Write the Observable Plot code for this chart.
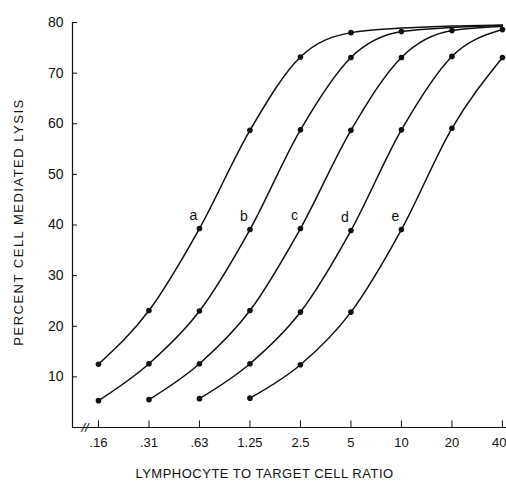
<!DOCTYPE html>
<html><head><meta charset="utf-8">
<script src="https://cdn.jsdelivr.net/npm/d3@7"></script>
<script src="https://cdn.jsdelivr.net/npm/@observablehq/plot@0.6"></script>
<style>body{margin:0;background:#fff} svg{display:block}</style>
</head><body><div id="chart"></div>
<script>
const ratios = [0.15625, 0.3125, 0.625, 1.25, 2.5, 5, 10, 20, 40];
const tickLabels = [".16", ".31", ".63", "1.25", "2.5", "5", "10", "20", "40"];
const yTicks = [10, 20, 30, 40, 50, 60, 70, 80];
const names = ["a", "b", "c", "d", "e"];
// measured points (null = no point)
const lysisA = [12.5, 23.1, 39.3, 58.7, 73.2, 78.0, null, null, null];
const lysisB = [5.3, 12.6, 23.0, 39.1, 58.8, 73.1, 78.2, null, null];
const lysisC = [null, 5.5, 12.6, 23.1, 39.3, 58.7, 73.1, 78.4, null];
const lysisD = [null, null, 5.7, 12.6, 22.8, 38.9, 58.8, 73.3, 78.6];
const lysisE = [null, null, null, 5.8, 12.4, 22.8, 39.1, 59.1, 73.1];
// curve continuation beyond the last point (line only)
const tailA = [null, null, null, null, null, null, 78.9, 79.3, 79.5];
const tailB = [null, null, null, null, null, null, null, 79.0, 79.4];
const tailC = [null, null, null, null, null, null, null, null, 79.2];
const tailD = [null, null, null, null, null, null, null, null, null];
const tailE = [null, null, null, null, null, null, null, null, null];

const series = [lysisA, lysisB, lysisC, lysisD, lysisE];
const tails = [tailA, tailB, tailC, tailD, tailE];
const points = [], linePts = [], labels = [];
names.forEach((n, i) => {
  let best = null;
  ratios.forEach((r, j) => {
    const v = series[i][j];
    if (v != null) {
      points.push({name: n, ratio: r, lysis: v});
      linePts.push({name: n, ratio: r, lysis: v});
      if (best == null || Math.abs(v - 39) < Math.abs(best.lysis - 39)) best = {name: n, ratio: r, lysis: v};
    } else if (tails[i][j] != null) {
      linePts.push({name: n, ratio: r, lysis: tails[i][j]});
    }
  });
  labels.push(best);
});
const xTicks = ratios.map((r, i) => ({ratio: r, label: tickLabels[i]}));
const lastTick = xTicks.length - 1;

const xDomain = [0.1094, 42.3];
const font = "'Liberation Sans', Arial, sans-serif";
const chart = Plot.plot({
  width: 506, height: 483,
  marginLeft: 72, marginRight: 0, marginTop: 22, marginBottom: 56,
  style: {fontFamily: font, color: "#111", background: "#fff"},
  x: {type: "log", base: 2, domain: xDomain, axis: null},
  y: {domain: [0, 80]},
  marks: [
    Plot.ruleX([xDomain[0]], {stroke: "#111", strokeWidth: 1.2}),
    Plot.ruleY([0], {stroke: "#111", strokeWidth: 1.2}),
    Plot.ruleX(xTicks, {x: "ratio", y1: 0, y2: 1.3, stroke: "#111"}),
    Plot.text(xTicks.slice(0, lastTick), {x: "ratio", text: "label", frameAnchor: "bottom", lineAnchor: "middle", dy: 15, fontSize: 13}),
    Plot.text(xTicks.slice(lastTick), {x: "ratio", text: "label", frameAnchor: "bottom", lineAnchor: "middle", textAnchor: "end", dx: 4, dy: 15, fontSize: 13}),
    Plot.axisY(yTicks, {tickSize: -5, tickPadding: 14, fontSize: 14, label: null}),
    Plot.line(linePts, {x: "ratio", y: "lysis", z: "name", curve: "monotone-x", stroke: "#111", strokeWidth: 1.5}),
    Plot.dot(points, {x: "ratio", y: "lysis", r: 2.8, fill: "#111"}),
    Plot.text(labels, {x: "ratio", y: "lysis", text: "name", dx: -6, dy: -13, fontSize: 14}),
    Plot.text(["PERCENT CELL MEDIATED LYSIS"], {frameAnchor: "left", textAnchor: "middle", lineAnchor: "middle", dx: -54, dy: -3, rotate: -90, fontSize: 13}),
    Plot.text(["LYMPHOCYTE TO TARGET CELL RATIO"], {frameAnchor: "bottom", textAnchor: "middle", lineAnchor: "middle", dx: -25, dy: 46, fontSize: 13}),
    Plot.text(["//"], {frameAnchor: "bottom-left", lineAnchor: "middle", dx: 9, dy: 0, fontSize: 13, fontStyle: "italic"})
  ]
});
d3.select(chart).selectAll("text").each(function() {
  const t = this.textContent;
  if (t === "PERCENT CELL MEDIATED LYSIS") d3.select(this).attr("letter-spacing", "1.5px");
  if (t === "LYMPHOCYTE TO TARGET CELL RATIO") d3.select(this).attr("letter-spacing", "0.5px");
});
document.getElementById("chart").append(chart);
</script>
</body></html>
